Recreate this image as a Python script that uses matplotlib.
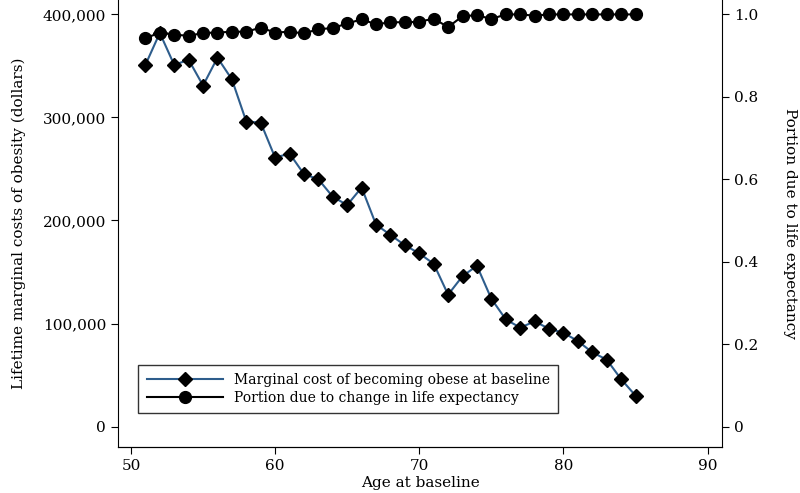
import numpy as np
import matplotlib.pyplot as plt
from matplotlib.ticker import FuncFormatter

plt.rcParams['font.family'] = ['DejaVu Serif']

# data
ages = list(range(51, 86))
marginal_cost = [351000, 382000, 351000, 356000, 331000, 358000, 337000, 296000,
                 295000, 261000, 265000, 245000, 240000, 223000, 215000, 232000,
                 196000, 186000, 176000, 168000, 158000, 128000, 146000, 156000,
                 124000, 104000, 96000, 102000, 95000, 91000, 83000, 72000,
                 65000, 46000, 30000]
portion_life = [0.942, 0.956, 0.951, 0.948, 0.955, 0.956, 0.958, 0.958,
                0.968, 0.956, 0.958, 0.954, 0.964, 0.967, 0.978, 0.988,
                0.976, 0.981, 0.981, 0.982, 0.990, 0.969, 0.996, 0.998,
                0.989, 1.0, 1.0, 0.997, 1.0, 1.0, 1.0, 1.0, 1.0, 1.0, 1.0]

label_cost = "Marginal cost of becoming obese at baseline"
label_portion = "Portion due to change in life expectancy"

fig = plt.figure(figsize=(8, 4.93), dpi=100)
ax = fig.add_axes([0.1475, 0.093, 0.755, 0.907])
ax2 = ax.twinx()

l1, = ax.plot(ages, marginal_cost, color='#2e5d8c', lw=1.5, marker='D', ms=7.5,
              mfc='black', mec='black', label=label_cost)
l2, = ax2.plot(ages, portion_life, color='black', lw=1.5, marker='o', ms=8.5,
               mfc='black', mec='black', label=label_portion)

ax.set_xlim(49.1, 91)
ax.set_ylim(-20000, 414000)
ax2.set_ylim(-0.05, 1.035)

ax.set_xticks([50, 60, 70, 80, 90])
ax.set_yticks([0, 100000, 200000, 300000, 400000])
ax.yaxis.set_major_formatter(FuncFormatter(lambda v, p: f"{int(v):,}"))
ax2.set_yticks([0, 0.2, 0.4, 0.6, 0.8, 1.0])
ax2.set_yticklabels(['0', '0.2', '0.4', '0.6', '0.8', '1.0'])

for a in (ax, ax2):
    a.spines['top'].set_visible(False)
    a.tick_params(labelsize=11, length=5, width=0.8, direction='out', colors='black')
ax.spines['right'].set_visible(False)
ax2.spines['left'].set_visible(False)

ax.set_xlabel("Age at baseline", fontsize=11, labelpad=2)
ax.set_ylabel("Lifetime marginal costs of obesity (dollars)", fontsize=11, labelpad=12)
ax2.set_ylabel("Portion due to life expectancy", fontsize=11, rotation=-90, labelpad=28)

leg = ax.legend(handles=[l1, l2], loc='lower left', bbox_to_anchor=(0.022, 0.06),
                fontsize=10, handlelength=5.5, frameon=True, fancybox=False,
                edgecolor='black', borderpad=0.6, labelspacing=0.3)
leg.get_frame().set_linewidth(1)

fig.savefig("out.png", dpi=100)
